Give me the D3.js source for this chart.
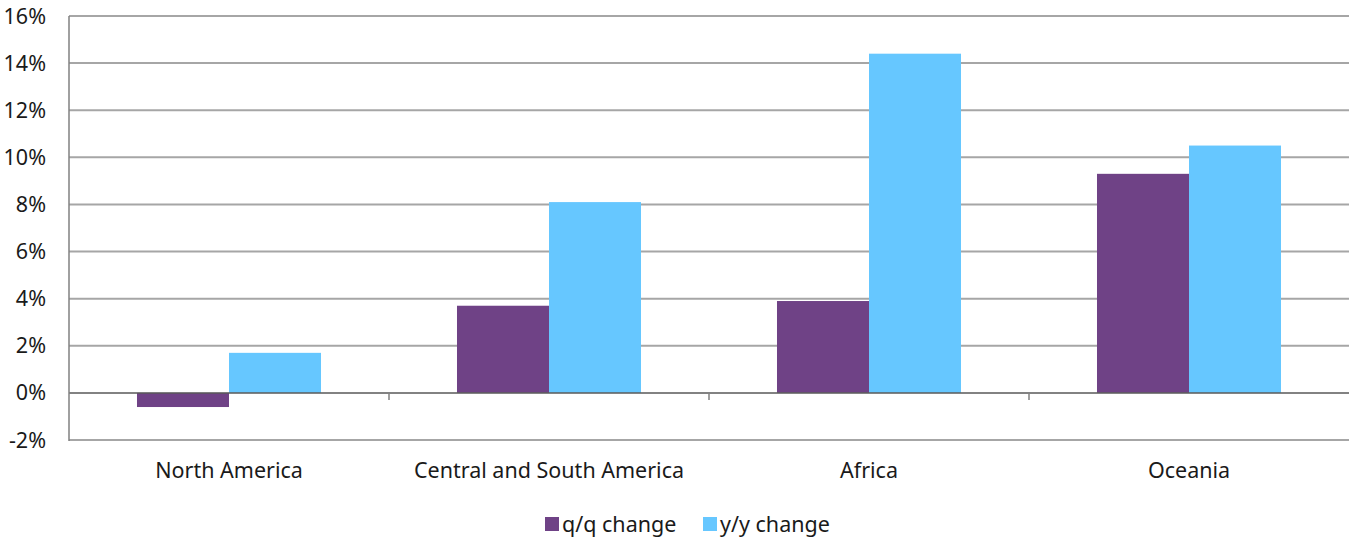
<!DOCTYPE html>
<html><head><meta charset="utf-8">
<script src="https://cdn.jsdelivr.net/npm/d3@7"></script>
<style>body{margin:0;background:#fff;} svg{display:block;} text{font-family:"Noto Sans","Open Sans",sans-serif;fill:#1a1a1a;}</style>
</head><body>
<svg id="c" width="1355" height="540"></svg>
<script>
const categories = ["North America","Central and South America","Africa","Oceania"];
const qqChange = [-0.6, 3.7, 3.9, 9.3];
const yyChange = [1.7, 8.1, 14.4, 10.5];
const seriesNames = ["q/q change","y/y change"];
const yTicks = [-2,0,2,4,6,8,10,12,14,16];

const colors = ["#6F4286","#66C7FF"];
const FS = 21.5;
const svg = d3.select("#c");
const L = 69, R = 1349, T = 16, B = 440;
const x = d3.scaleBand().domain(categories).range([L,R]).paddingInner(0).paddingOuter(0);
const x1 = d3.scaleBand().domain(seriesNames).range([0,x.bandwidth()]).paddingInner(0).paddingOuter(0.739);
const y = d3.scaleLinear().domain([-2,16]).range([B,T]);

// gridlines
svg.append("g").selectAll("line").data(yTicks.filter(d=>d!==0)).join("line")
  .attr("x1",L).attr("x2",R).attr("y1",d=>y(d)).attr("y2",d=>y(d))
  .attr("stroke","#A6A6A6").attr("stroke-width",2);

// y axis labels
svg.append("g").selectAll("text").data(yTicks).join("text")
  .attr("x",46).attr("y",d=>y(d)).attr("dy","0.35em").attr("text-anchor","end")
  .attr("font-size",FS).text(d=>d+"%");

// bars
const data = categories.map((c,i)=>({c, vals:[qqChange[i], yyChange[i]]}));
const g = svg.append("g");
data.forEach(d=>{
  d.vals.forEach((v,j)=>{
    g.append("rect")
      .attr("x", x(d.c)+x1(seriesNames[j]))
      .attr("width", x1.bandwidth())
      .attr("y", y(Math.max(0,v)))
      .attr("height", Math.abs(y(v)-y(0)))
      .attr("fill", colors[j]);
  });
});

// zero axis line
svg.append("line").attr("x1",L).attr("x2",R).attr("y1",y(0)).attr("y2",y(0))
  .attr("stroke","#595959").attr("stroke-width",1.5);
// category ticks
svg.append("g").selectAll("line").data(categories.slice(1)).join("line")
  .attr("x1",d=>x(d)).attr("x2",d=>x(d)).attr("y1",y(0)).attr("y2",y(0)+7)
  .attr("stroke","#808080").attr("stroke-width",1.5);
// left axis
svg.append("line").attr("x1",L).attr("x2",L).attr("y1",T).attr("y2",B+1)
  .attr("stroke","#808080").attr("stroke-width",1.5);

// category labels
svg.append("g").selectAll("text").data(categories).join("text")
  .attr("x",d=>x(d)+x.bandwidth()/2).attr("y",470).attr("dy","0.35em")
  .attr("text-anchor","middle").attr("font-size",FS).text(d=>d);

// legend
const leg = svg.append("g");
const legX = [545, 703];
seriesNames.forEach((s,i)=>{
  leg.append("rect").attr("x",legX[i]).attr("y",517).attr("width",14).attr("height",14).attr("fill",colors[i]);
  leg.append("text").attr("x",legX[i]+17).attr("y",524).attr("dy","0.35em").attr("font-size",FS).text(s);
});
</script>
</body></html>
